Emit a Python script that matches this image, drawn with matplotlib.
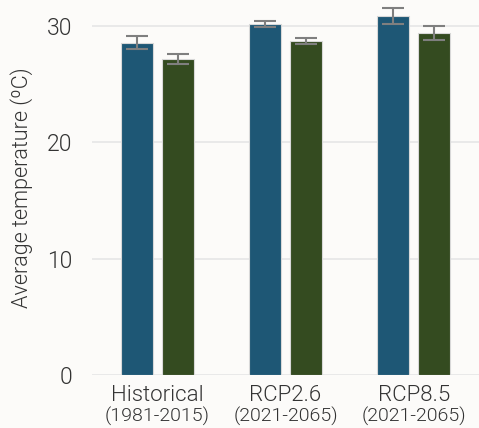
import numpy as np
import matplotlib.pyplot as plt

# Scenario groups and mean temperatures with error (+/-)
scenarios = ['Historical', 'RCP2.6', 'RCP8.5']
periods = ['(1981-2015)', '(2021-2065)', '(2021-2065)']
temp_blue = [28.55, 30.13, 30.83]
err_blue = [0.60, 0.26, 0.67]
temp_green = [27.12, 28.69, 29.37]
err_green = [0.43, 0.28, 0.60]

plt.rcParams['font.family'] = ['Roboto', 'DejaVu Sans']
txt = '#333333'
wt = 300  # Roboto Light

fig = plt.figure(figsize=(4.79, 4.28), dpi=100)
fig.patch.set_facecolor('#fcfbf9')
ax = fig.add_axes([92/479, 53/428, 387/479, 375/428])
ax.set_facecolor('#fcfbf9')

x = np.arange(len(scenarios))
w = 0.25
off = 0.16
err_kw = dict(ecolor='#7f7f7f', elinewidth=1.5, capsize=8, capthick=1.5)
ax.bar(x - off, temp_blue, w, yerr=err_blue, color='#1e5775',
       edgecolor='#d8d8d8', linewidth=0.8, error_kw=err_kw, zorder=3)
ax.bar(x + off, temp_green, w, yerr=err_green, color='#344b20',
       edgecolor='#d8d8d8', linewidth=0.8, error_kw=err_kw, zorder=3)

ax.set_xlim(-0.51, 2.51)
ax.set_ylim(0, 32.2)
ax.set_yticks([0, 10, 20, 30])
ax.set_xticks(x)
ax.set_xticklabels(scenarios, fontsize=16, color=txt, fontweight=wt)
ax.tick_params(axis='y', labelsize=16.5, labelcolor=txt, length=0, pad=14)
ax.tick_params(axis='x', length=0, pad=7.5)
for lbl in ax.get_yticklabels():
    lbl.set_fontweight(wt)

# second line of each category label, a bit smaller
for xi, p in zip(x, periods):
    ax.annotate(p, xy=(xi, 0), xycoords=('data', 'axes fraction'),
                xytext=(0, -23), textcoords='offset points',
                ha='center', va='top', fontsize=14, color=txt,
                fontweight=wt)

ax.grid(axis='y', color='#e6e6e6', linewidth=1.2, zorder=0)
for s in ax.spines.values():
    s.set_visible(False)

ax.set_ylabel('Average temperature (ºC)', fontsize=15.5, color=txt,
              fontweight=wt, labelpad=10)

plt.savefig('out.png', dpi=100, facecolor=fig.get_facecolor())
